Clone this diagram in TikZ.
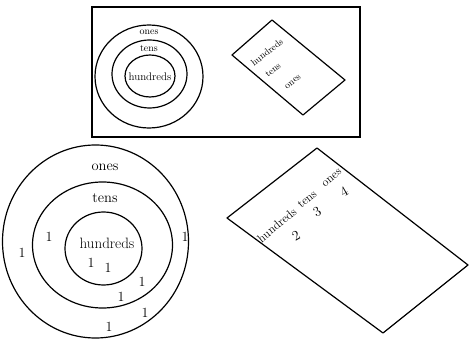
\documentclass[tikz,border=0pt]{standalone}
\usepackage{tikz}
\usetikzlibrary{positioning}
\tikzset{
  every node/.append style={align=center, inner sep=1pt},
  ring/.style={line width=1.2pt},
  card/.style={line width=1.2pt, line join=round},
  smalllbl/.style={font=\fontsize{10}{12}\selectfont},
  biglbl/.style={font=\fontsize{14.5}{17}\selectfont},
  cardlbl/.style={font=\fontsize{9.5}{11}\selectfont, rotate=38},
  slantlbl/.style={font=\fontsize{12}{14}\selectfont, rotate=40},
  digit/.style={font=\fontsize{14}{16}\selectfont}
}

\begin{document}
\begin{tikzpicture}[x=1pt, y=-1pt]
\useasboundingbox (0,0) rectangle (469,342);

% ── Small sketch (top frame) ─────────────────────────────────────────────────
\draw[line width=1.2pt] (92,7) rectangle (360,137);
\draw[ring] (149,76.5) ellipse [x radius=54, y radius=51.5];
\draw[ring] (149.5,74) ellipse [x radius=37.5, y radius=34];
\draw[ring] (150,76) ellipse [x radius=25, y radius=21];
\node[smalllbl] (sones) at (149,32) {ones};
\node[smalllbl] (stens) at (149,48) {tens};
\node[font=\fontsize{11}{13}\selectfont] (shund) at (150,77) {hundreds};

\draw[card] (272,20) -- (345,80) -- (303,115) -- (232,55) -- cycle;
\node[cardlbl] (chund) at (267,52) {hundreds};
\node[cardlbl] (ctens) at (273,70) {tens};
\node[cardlbl] (cones) at (293,82) {ones};

% ── Rings (bottom left) ──────────────────────────────────────────────────────
\draw[ring] (95.5,241.5) ellipse [x radius=93, y radius=96.5];
\draw[ring] (102.5,245) ellipse [x radius=70, y radius=63];
\draw[ring] (103.5,248.5) ellipse [x radius=38.5, y radius=36.5];
\node[biglbl] (ones) at (105,167) {ones};
\node[biglbl] (tens) at (105,198) {tens};
\node[font=\fontsize{15}{18}\selectfont] (hund) at (107,243) {hundreds};
% ones scattered in the rings
\foreach \px/\py [count=\k] in {22/253, 49/237, 185/237, 91/263, 108/268,
                                142/282, 121/297, 145/313, 109/327} {
  \node[digit] (one\k) at (\px,\py) {1};
}

% ── Tilted card (bottom right) ───────────────────────────────────────────────
\draw[card] (317,148) -- (468,265) -- (383,333) -- (227,218) -- cycle;
\node[slantlbl] (bhund) at (277,225) {hundreds};
\node[slantlbl] (btens) at (307,199) {tens};
\node[slantlbl] (bones) at (332,178) {ones};
\node[digit, rotate=30] (dtwo)   at (296,236) {2};
\node[digit, rotate=30] (dthree) at (317,212) {3};
\node[digit, rotate=30] (dfour)  at (344,192) {4};

\end{tikzpicture}
\end{document}
